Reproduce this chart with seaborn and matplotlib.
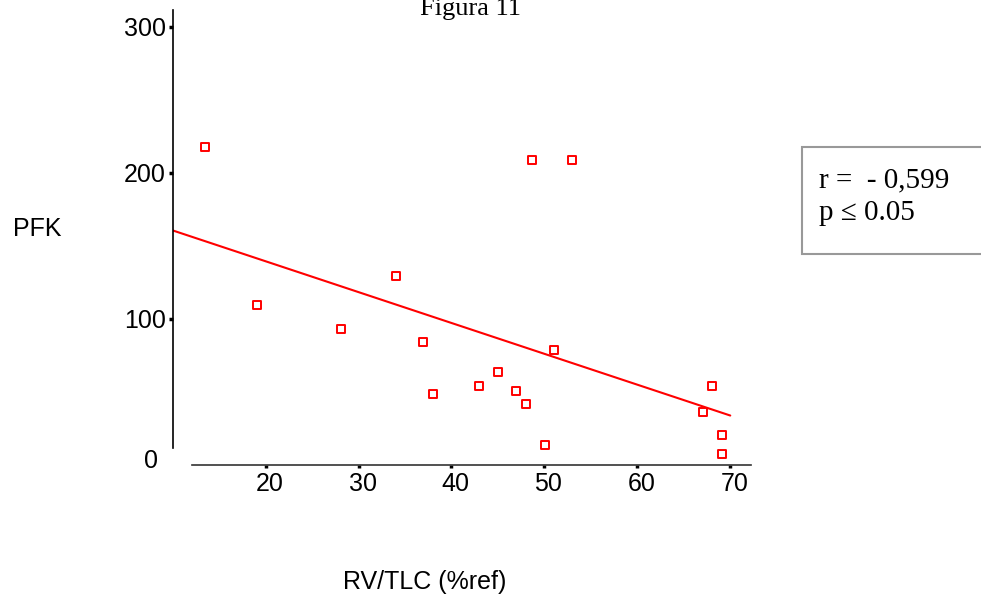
import matplotlib
matplotlib.use('Agg')
import matplotlib.pyplot as plt
import matplotlib.transforms as mtransforms
from matplotlib.patches import Rectangle
import numpy as np
import pandas as pd
import seaborn as sns

# RV/TLC (%ref) vs PFK
rv_tlc = [13.5, 48.7, 53.0, 19.1, 28.1, 34.0, 36.9, 38.0, 43.0, 45.05,
          46.9, 48.0, 50.1, 51.0, 68.0, 67.05, 69.1, 69.1]
pfk = [217.8, 208.4, 208.4, 109.6, 93.4, 129.2, 84.5, 48.8, 53.9, 63.7,
       50.9, 41.8, 13.5, 78.8, 53.9, 36.1, 20.3, 7.3]
x_ticks = [20, 30, 40, 50, 60, 70]
y_ticks = [0, 100, 200, 300]
fit_range = [10, 70]

df = pd.DataFrame({'RV/TLC': rv_tlc, 'PFK': pfk})

sns.set_style('white')
plt.rcParams['font.family'] = ['Liberation Sans', 'DejaVu Sans']
plt.rcParams['text.color'] = 'black'
plt.rcParams['xtick.labelcolor'] = 'black'
plt.rcParams['ytick.labelcolor'] = 'black'

fig = plt.figure(figsize=(9.81, 6.0), dpi=100)
ax = fig.add_axes([172.7 / 981, 1 - 465 / 600, (750.7 - 172.7) / 981, (465 - 10) / 600])

sns.scatterplot(data=df, x='RV/TLC', y='PFK', ax=ax, marker='s', s=34,
                facecolor='white', edgecolor='#ff0000', linewidth=1.4, zorder=3)

# least-squares line, drawn across 10..70
slope, intercept = np.polyfit(df['RV/TLC'], df['PFK'], 1)
xf = np.array(fit_range, dtype=float)
ax.plot(xf, intercept + slope * xf, color='#ff0000', linewidth=1.5, zorder=2)

ax.set_xlim(10, 72.2)
ax.set_ylim(0, 311.4)
ax.set_xticks(x_ticks)
ax.set_yticks(y_ticks)
ax.set_xlabel('')
ax.set_ylabel('')

for side in ['top', 'right']:
    ax.spines[side].set_visible(False)
ax.spines['left'].set_bounds(11.8, 311.4)
ax.spines['bottom'].set_bounds(12.1, 72.2)
ax.spines['left'].set_color('black')
ax.spines['bottom'].set_color('#333333')
ax.spines['left'].set_linewidth(1.2)
ax.spines['bottom'].set_linewidth(1.2)

ax.tick_params(axis='y', direction='out', length=3, width=2.5, color='black',
               labelsize=18, pad=2, left=True)
ax.tick_params(axis='x', direction='out', length=2, width=2.5, color='black',
               labelsize=18, pad=3, bottom=True)

# no tick mark at 0, its label sits a bit up and left
t0 = ax.yaxis.get_major_ticks()[0]
t0.tick1line.set_visible(False)
t0.label1.set_transform(t0.label1.get_transform() +
                        mtransforms.ScaledTranslation(-0.08, 0.07, fig.dpi_scale_trans))
for t in ax.xaxis.get_major_ticks():
    t.label1.set_transform(t.label1.get_transform() +
                           mtransforms.ScaledTranslation(0.04, 0, fig.dpi_scale_trans))

fig.text(470 / 981, 1 - 15 / 600, 'Figura 11', ha='center', va='baseline',
         fontsize=19, family=['Liberation Serif', 'DejaVu Serif'])
fig.text(37 / 981, 1 - 229 / 600, 'PFK', ha='center', va='center', fontsize=18)
fig.text(425 / 981, 1 - 582 / 600, 'RV/TLC (%ref)', ha='center', va='center', fontsize=18)

# stats box
fig.patches.append(Rectangle((801.7 / 981, 1 - 254 / 600), 200 / 981, 106.7 / 600,
                             transform=fig.transFigure, facecolor='white',
                             edgecolor='#999999', linewidth=1.5))
fig.text(819 / 981, 1 - 187 / 600, 'r =  - 0,599', ha='left', va='baseline',
         fontsize=21, family=['Liberation Serif', 'DejaVu Serif'])
fig.text(819 / 981, 1 - 220 / 600, 'p \u2264 0.05', ha='left', va='baseline',
         fontsize=21, family=['Liberation Serif', 'DejaVu Serif'])

fig.savefig('out.png', dpi=100)
